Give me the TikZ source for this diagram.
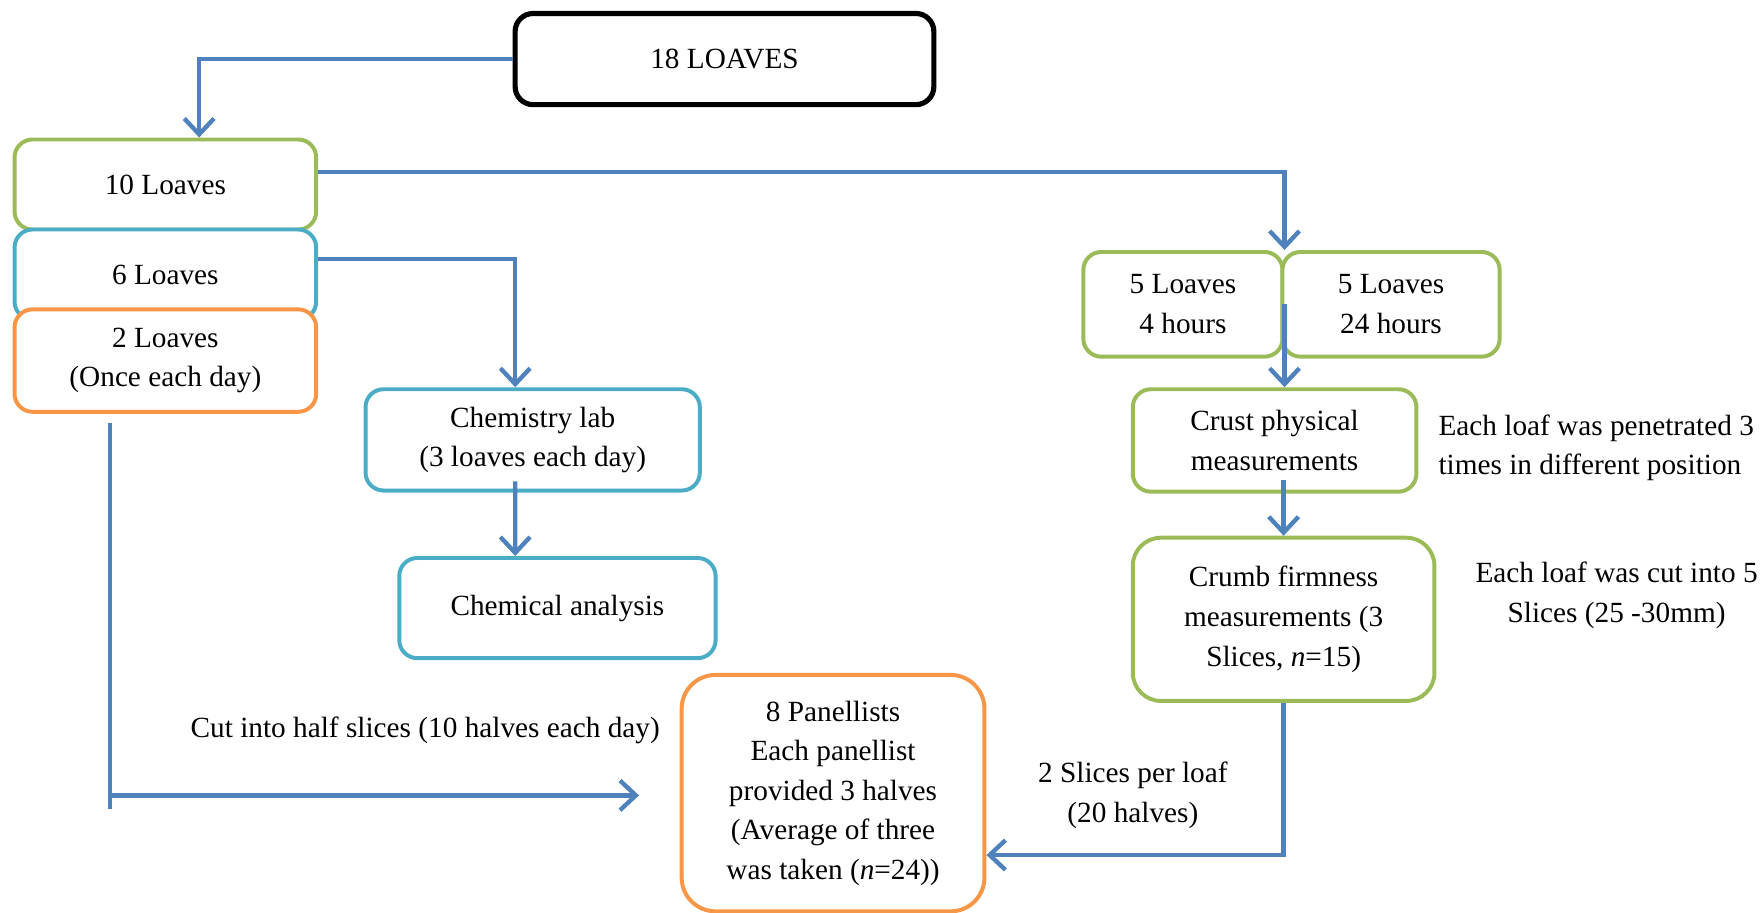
\documentclass[tikz,border=0pt]{standalone}
\usepackage{fontspec}
\setmainfont{Liberation Serif}
\usepackage{tikz}
\usetikzlibrary{arrows.meta, positioning, calc}
\definecolor{leafgreen}{HTML}{9BBB59}
\definecolor{labteal}{HTML}{4BACC6}
\definecolor{crustorange}{HTML}{F79646}
\definecolor{flowblue}{HTML}{4F81BD}
\tikzstyle{stage} = [rectangle, rounded corners=0.16cm, draw, line width=1pt, fill=white, text centered, align=center, inner sep=0pt]
\tikzstyle{note} = [align=center, inner sep=0pt]
\tikzstyle{arrow} = [line width=1.1pt, flowblue, -{Straight Barb[length=4pt,width=7.5pt]}]
\tikzstyle{feed} = [line width=1.1pt, flowblue]

\begin{document}
\begin{tikzpicture}[x=0.01cm, y=-0.01cm, font=\fontsize{7.4}{10}\selectfont]
		\useasboundingbox (0,0) rectangle (1568,811);
		\node (total) [stage, draw=black, line width=1.3pt, minimum width=3.72cm, minimum height=0.81cm] at (644,52.5) {18 LOAVES};
		\node (ten) [stage, draw=leafgreen, minimum width=2.68cm, minimum height=0.8cm] at (147,164) {10 Loaves};
		\node (six) [stage, draw=labteal, minimum width=2.68cm, minimum height=0.8cm] at (147,244) {6 Loaves};
		\node (two) [stage, draw=crustorange, minimum width=2.68cm, minimum height=0.91cm] at (147,320.5) {2 Loaves\\(Once each day)};
		\node (chemlab) [stage, draw=labteal, minimum width=2.97cm, minimum height=0.9cm] at (473.5,391) {Chemistry lab\\(3 loaves each day)};
		\node (chemana) [stage, draw=labteal, minimum width=2.81cm, minimum height=0.89cm] at (495.5,540.5) {Chemical analysis};
		\node (panel) [stage, draw=crustorange, rounded corners=0.3cm, minimum width=2.69cm, minimum height=2.1cm] at (740.5,705) {8 Panellists\\Each panellist\\provided 3 halves\\(Average of three\\was taken (\textit{n}=24))};
		\node (four) [stage, draw=leafgreen, minimum width=1.77cm, minimum height=0.93cm] at (1051.5,270.5) {5 Loaves\\4 hours};
		\node (twentyfour) [stage, draw=leafgreen, minimum width=1.93cm, minimum height=0.93cm] at (1236.5,270.5) {5 Loaves\\24 hours};
		\node (crust) [stage, draw=leafgreen, minimum width=2.52cm, minimum height=0.91cm] at (1133,391.5) {Crust physical\\measurements};
		\node (crumb) [stage, draw=leafgreen, rounded corners=0.25cm, minimum width=2.68cm, minimum height=1.45cm] at (1141,550.5) {Crumb firmness\\measurements (3\\Slices, \textit{n}=15)};
		
		\node (pen) [note, anchor=west, align=left] at (1278,398) {Each loaf was penetrated 3\\times in different position};
		\node (cut5) [note] at (1437,529) {Each loaf was cut into 5\\Slices (25 -30mm)};
		\node (halves) [note] at (378,649) {Cut into half slices (10 halves each day)};
		\node (perloaf) [note] at (1007,707) {2 Slices per loaf\\(20 halves)};
		
		\coordinate (bend) at (98,707);
		\coordinate (cutend) at (568,707);
		
		\draw[arrow] (total.west) -| ([xshift=0.3cm]ten.north);
		\draw[arrow] ([yshift=0.11cm]ten.east) -| (four.north east);
		\draw[arrow] ([yshift=0.14cm]six.east) -| ([xshift=-0.155cm]chemlab.north);
		\draw[arrow] ([xshift=-0.155cm,yshift=0.1cm]chemlab.south) -- ([xshift=-0.375cm]chemana.north);
		\draw[feed] ([xshift=-0.49cm,yshift=-0.08cm]two.south) -- ++(0,343);
		\draw[arrow] (bend) -- (cutend);
		\draw[arrow] (four.east) -- (four.east |- crust.north);
		\draw[arrow] ([yshift=0.12cm]crust.south -| crumb.north) -- (crumb.north);
		\draw[arrow] (crumb.south) |- ([yshift=-0.55cm]panel.east);
	\end{tikzpicture}
\end{document}
